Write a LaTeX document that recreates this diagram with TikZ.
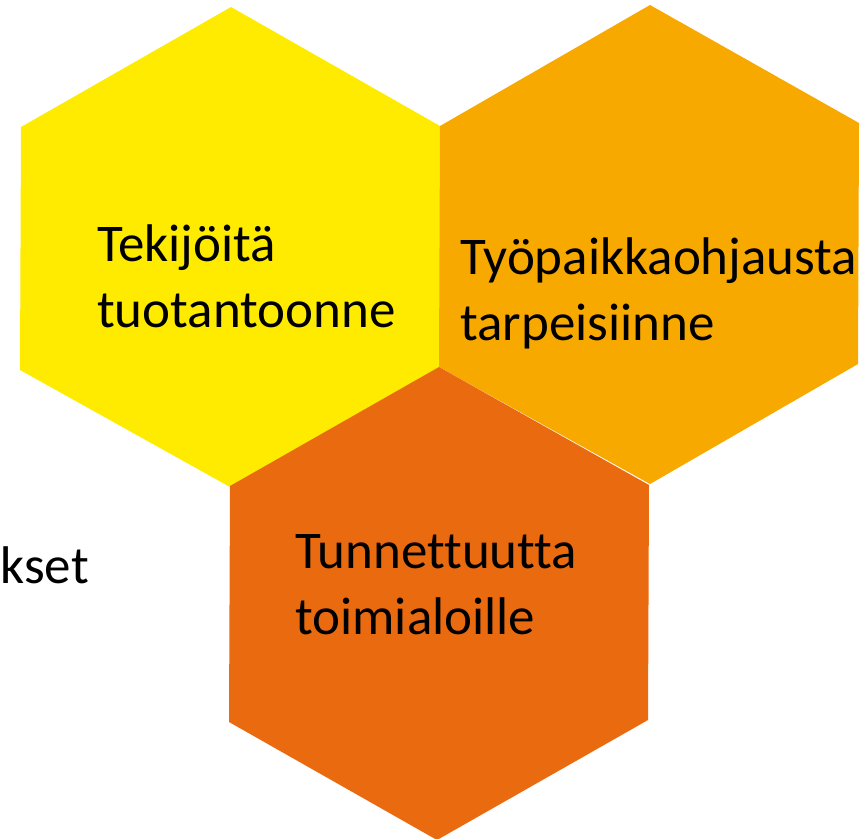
\documentclass[tikz,border=0pt]{standalone}
\usepackage{fontspec}
\setmainfont{Carlito}[Ligatures=NoCommon]
\definecolor{hexyellow}{RGB}{255,235,0}
\definecolor{hexamber}{RGB}{248,169,0}
\definecolor{hexorange}{RGB}{234,106,16}
\begin{document}
\begin{tikzpicture}[x=1pt,y=-1pt,
  lbl/.style={anchor=base west,align=left,inner sep=0pt,text=black,font=\fontsize{53}{66}\selectfont}]
\useasboundingbox (0,0) rectangle (864,838);
% hexagons
\fill[hexyellow] (231,7) -- (440,126) -- (440,368) -- (230,487) -- (20,370) -- (21,127) -- cycle;
\fill[hexamber] (650,5) -- (859,123) -- (858,364) -- (650,484) -- (439,367) -- (440,126) -- cycle;
\fill[hexorange] (439,367) -- (649,485) -- (648,720) -- (437,840) -- (229,722) -- (230,486) -- cycle;
% labels (anchor is the baseline of the last line)
\node[lbl] (t1) at (97,327) {Tekijöitä\\tuotantoonne};
\node[lbl] (t2) at (460,340) {Työpaikkaohjausta\\tarpeisiinne};
\node[lbl] (t3) at (295,634) {Tunnettuutta\\toimialoille};
\node[anchor=base east,inner sep=0pt,font=\fontsize{53}{66}\selectfont] (t4) at (89,583) {kset};
\end{tikzpicture}
\end{document}
